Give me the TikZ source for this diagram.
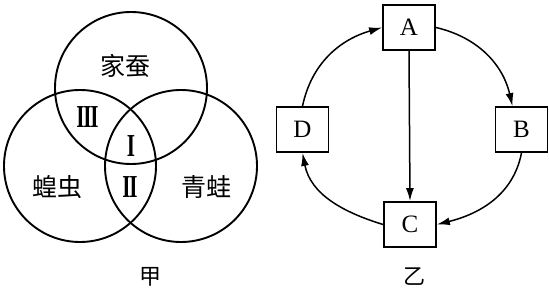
\documentclass[tikz,border=0pt]{standalone}
\usepackage{fontspec}
\setmainfont{Liberation Serif}
\newfontfamily\cjk{Noto Sans CJK SC}
\usetikzlibrary{arrows.meta}
\newcommand{\romnum}[1]{\scalebox{0.66}[1]{\fontsize{32}{36}\selectfont\bfseries #1}}
\begin{document}
\begin{tikzpicture}[x=1pt,y=1pt,
  venn/.style={circle,draw,line width=1.9pt,minimum size=152pt,inner sep=0pt},
  zh/.style={font=\cjk\fontsize{25}{30}\selectfont},
  rom/.style={inner sep=0pt},
  caption/.style={font=\cjk\fontsize{22}{26}\selectfont},
  box/.style={draw,line width=1.8pt,minimum width=52pt,minimum height=45pt,inner sep=0pt,font=\fontsize{25}{28}\selectfont},
  arr/.style={line width=1.5pt,-{Latex[length=13pt,width=8pt]}}]
\useasboundingbox (0,0) rectangle (549,295);
% Venn diagram
\node[venn] (top) at (131,207) {};
\node[venn] (left) at (80,129) {};
\node[venn] (right) at (181,129) {};
\node[zh] (jc) at (125,229) {家蚕};
\node[zh] (hc) at (57,108) {蝗虫};
\node[zh] (qw) at (206,108) {青蛙};
\node[rom] (r3) at (87.5,178) {\romnum{I\kern-2ptI\kern-2ptI}};
\node[rom] (r1) at (131,149) {\romnum{I}};
\node[rom] (r2) at (130,108) {\romnum{I\kern-2ptI}};
\node[caption] (jia) at (150,18) {甲};
% Cycle diagram
\node[box] (A) at (409,267.5) {A};
\node[box] (D) at (302.5,165.5) {D};
\node[box] (B) at (521.5,165.5) {B};
\node[box] (C) at (410,70.5) {C};
\node[caption] (yi) at (414,18) {乙};
\draw[arr] (A.east) to[out=-13,in=103] ([xshift=-9pt]B.north);
\draw[arr] (B.south) to[out=-101,in=14] (C.east);
\draw[arr] (C.west) to[out=163,in=-79] (D.south);
\draw[arr] (D.north) to[out=78,in=-164] (A.west);
\draw[arr] (A.south) -- (C.north);
\end{tikzpicture}
\end{document}
